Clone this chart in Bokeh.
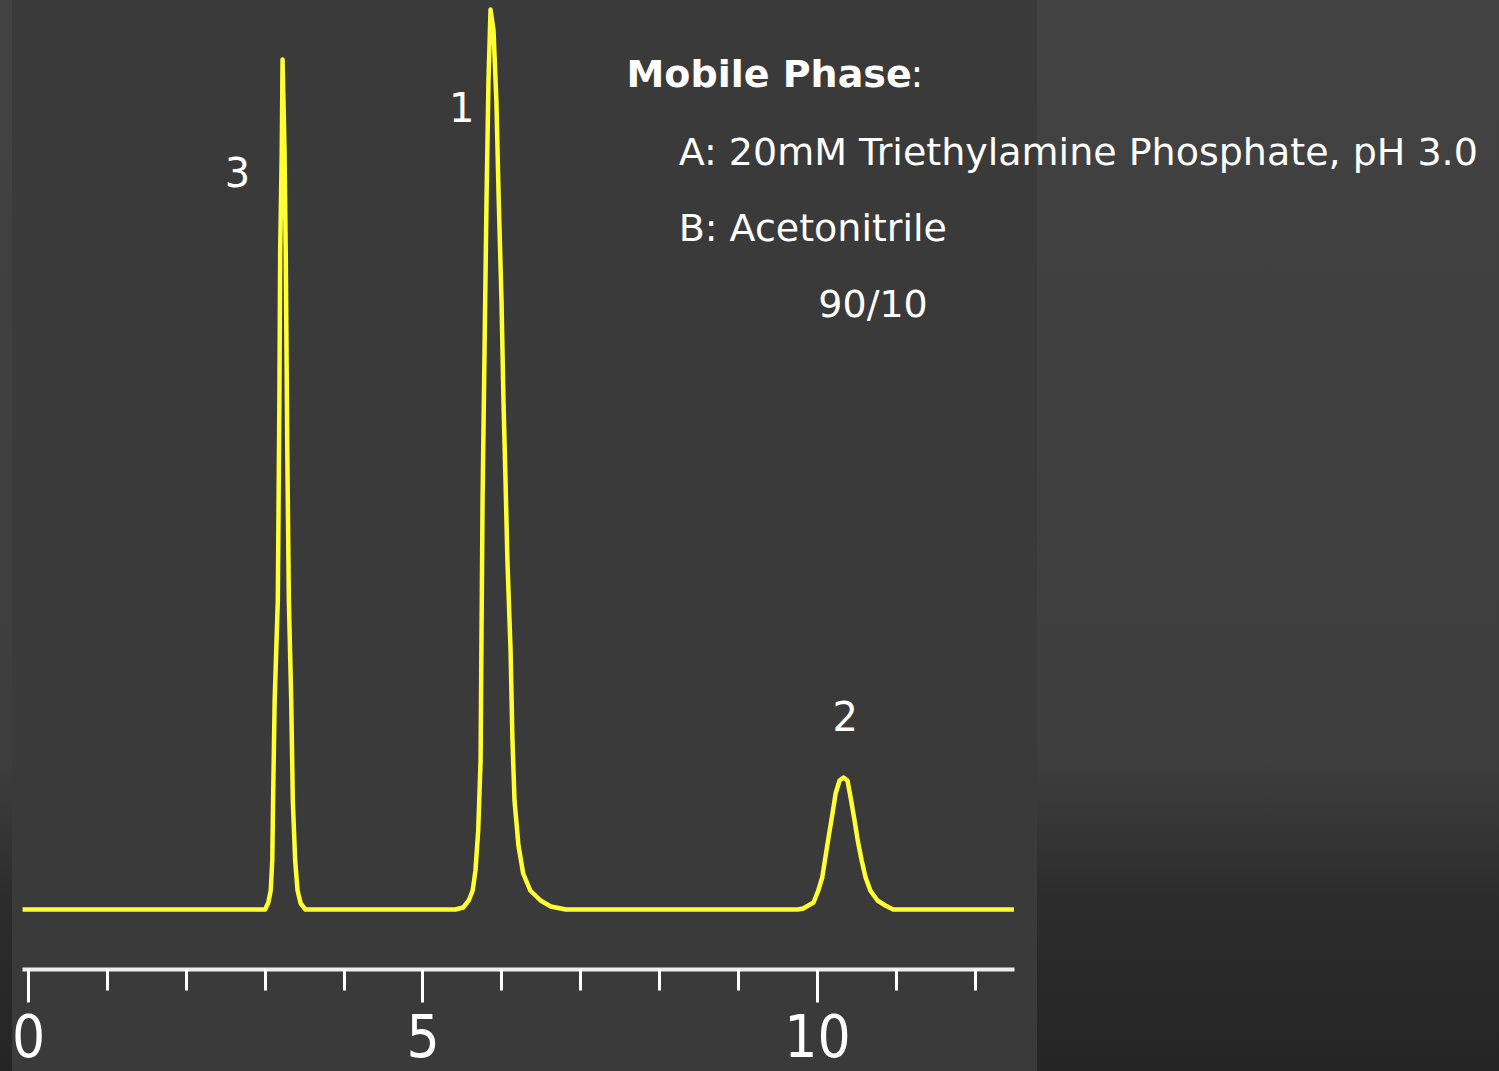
from bokeh.plotting import figure
from bokeh.models import Range1d, SingleIntervalTicker, LinearAxis, Label
from bokeh.core.properties import value
from bokeh.embed import file_html
from bokeh.resources import INLINE

# Chromatogram trace: retention time (min) and detector signal
time_min = [
    -0.08, 3.00, 3.04, 3.07, 3.09, 3.10, 3.12, 3.16, 3.18, 3.19, 3.21, 3.22,
    3.245, 3.26, 3.28, 3.30, 3.33, 3.35, 3.38, 3.41, 3.45, 3.51,
    5.41, 5.51, 5.58, 5.63, 5.665, 5.70, 5.73, 5.74, 5.755, 5.78, 5.805, 5.83,
    5.856, 5.894, 5.93, 5.96, 5.995, 6.02, 6.046, 6.07, 6.11, 6.134, 6.16,
    6.21, 6.27, 6.36, 6.49, 6.62, 6.81,
    9.75, 9.82, 9.95, 10.01, 10.06, 10.10, 10.14, 10.19, 10.23, 10.28, 10.33,
    10.38, 10.42, 10.47, 10.51, 10.56, 10.61, 10.67, 10.76, 10.86, 10.96, 12.49,
]
signal = [
    0, 0, 0.7, 1.9, 4.9, 10.9, 20.9, 30.9, 50.9, 65.9, 75.9, 85.0,
    75.9, 65.9, 45.9, 30.9, 20.9, 10.9, 4.9, 1.9, 0.6, 0,
    0, 0.2, 0.9, 1.9, 3.9, 7.9, 14.9, 25.9, 40.9, 55.9, 70.9, 82.9,
    90.0, 87.9, 80.9, 70.9, 60.9, 50.9, 42.9, 34.9, 25.9, 16.9, 10.9,
    6.4, 3.6, 1.9, 0.9, 0.3, 0,
    0, 0.1, 0.7, 1.9, 3.2, 5.2, 7.2, 9.6, 11.6, 12.9, 13.2,
    12.9, 11.2, 8.9, 6.9, 4.9, 3.2, 1.9, 0.9, 0.4, 0, 0,
]

# Peak labels
peak_names = ["3", "1", "2"]
peak_label_time = [2.65, 5.49, 10.35]
peak_label_signal = [73.8, 80.3, 19.4]

# Mobile phase annotation
mp_title = "Mobile Phase"
mp_lines = ["A: 20mM Triethylamine Phosphate, pH 3.0", "B: Acetonitrile", "90/10"]

# time axis extent
axis_start, axis_end = -0.076, 12.5

p = figure(
    frame_width=1477, frame_height=969,
    min_border_left=22, min_border_right=0, min_border_top=0, min_border_bottom=102,
    x_range=Range1d(axis_start, 18.644), y_range=Range1d(-6.0, 90.9),
    x_axis_location=None, y_axis_location=None,
    output_backend="svg", toolbar_location=None, tools="",
)
p.grid.visible = False
p.outline_line_color = None
p.background_fill_color = None
p.border_fill_color = None
p.styles = {
    "background": (
        "linear-gradient(to right, rgba(0,0,0,0) 0px, rgba(0,0,0,0) 12px, #3a3a3a 12px, "
        "#3a3a3a 1037px, rgba(0,0,0,0) 1037px), "
        "linear-gradient(to bottom, #424242 0px, #3e3e3e 760px, #2c2c2c 900px, #252525 1071px)"
    )
}

xa = LinearAxis(ticker=SingleIntervalTicker(interval=5, num_minor_ticks=5),
                bounds=(axis_start, axis_end))
xa.axis_line_color = "#eeeeee"
xa.axis_line_width = 4
xa.major_tick_line_color = "white"
xa.major_tick_line_width = 3
xa.major_tick_in = 0
xa.major_tick_out = 33
xa.minor_tick_line_color = "white"
xa.minor_tick_line_width = 3
xa.minor_tick_in = 0
xa.minor_tick_out = 21
xa.major_label_text_color = "white"
xa.major_label_text_font = "'DejaVu Sans Condensed', 'Liberation Sans'"
xa.major_label_text_font_size = "58px"
xa.major_label_standoff = 11
p.add_layout(xa, "below")

p.line(time_min, signal, line_color="#ffff33", line_width=4.5, line_join="round")

p.text(x=peak_label_time, y=peak_label_signal, text=peak_names,
       text_color="white", text_font=value("DejaVu Sans"), text_font_size="40px",
       text_align="center", text_baseline="alphabetic")

font = "DejaVu Sans"
p.add_layout(Label(x=7.58, y=83.6, text=mp_title, text_font=font, text_font_style="bold",
                   text_font_size="38px", text_color="white", text_baseline="alphabetic"))
p.add_layout(Label(x=11.18, y=83.6, text=":", text_font=font,
                   text_font_size="38px", text_color="white", text_baseline="alphabetic"))
p.add_layout(Label(x=8.24, y=75.8, text=mp_lines[0], text_font=font,
                   text_font_size="38px", text_color="white", text_baseline="alphabetic"))
p.add_layout(Label(x=8.24, y=68.2, text=mp_lines[1], text_font=font,
                   text_font_size="38px", text_color="white", text_baseline="alphabetic"))
p.add_layout(Label(x=10.01, y=60.6, text=mp_lines[2], text_font=font,
                   text_font_size="38px", text_color="white", text_baseline="alphabetic"))

open("out.html", "w").write(file_html(p, INLINE))
